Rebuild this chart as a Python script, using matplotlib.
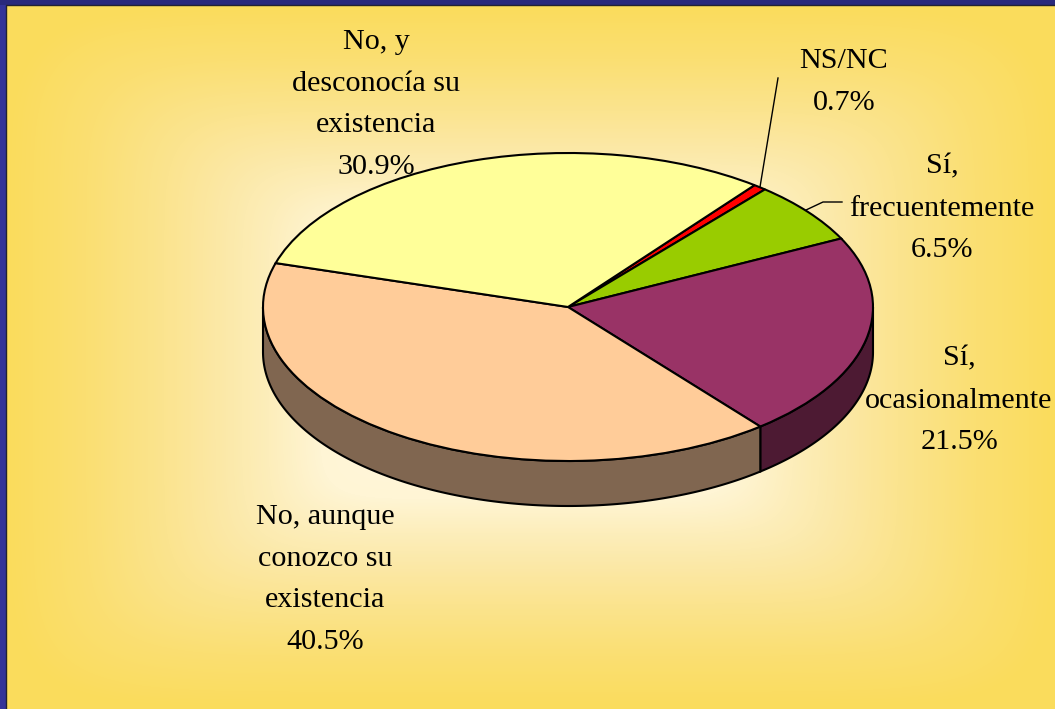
import numpy as np
import matplotlib
matplotlib.use("Agg")
import matplotlib.pyplot as plt
from matplotlib.colors import LinearSegmentedColormap

W, H = 1055, 709

# ---- data ----
categories = ["NS/NC", "Sí,\nfrecuentemente", "Sí,\nocasionalmente",
              "No, aunque\nconozco su\nexistencia", "No, y\ndesconocía su\nexistencia"]
values = [0.7, 6.5, 21.5, 40.5, 30.9]
top_colors = ["#FF0000", "#99CC00", "#993366", "#FFCC99", "#FFFF99"]
side_colors = ["#800000", "#4D6600", "#4D1A33", "#806650", "#80804D"]

# ---- layout (pixels) ----
CX, CY, RX, RY, DEPTH = 568, 307, 305, 154, 45
START = 52.3
label_xy = [(844, 82), (942, 208.5), (959, 400.5), (325, 579.5), (376, 104.5)]
FS = 21.7

plt.rcParams["font.family"] = ["Liberation Serif", "DejaVu Serif"]
fig = plt.figure(figsize=(W / 100, H / 100), dpi=100)
fig.patch.set_facecolor("#333399")

# background
bg = fig.add_axes([0, 0, 1, 1], zorder=0)
bg.set_xlim(0, W); bg.set_ylim(H, 0); bg.axis("off")
L, T = 6, 5
yy, xx = np.mgrid[T:H, L:W]
u = np.abs(xx - (L + W) / 2) / ((W - L) / 2)
v = np.abs(yy - (T + H) / 2) / ((H - T) / 2)
d = (u ** 8 + v ** 8) ** 0.125
cmap = LinearSegmentedColormap.from_list("g", [(0, "#FFFBE8"), (0.4, "#FFF5D5"), (0.5, "#FDEEBB"),
                                              (0.6, "#FBE8A5"), (0.7, "#FBE48F"),
                                              (0.85, "#FADF72"), (1, "#FADC5C")])
bg.imshow(d, extent=(L, W, H, T), cmap=cmap, vmin=0, vmax=1, aspect="auto", interpolation="bilinear")
bg.fill_between([0, W], 0, T, color="#29297C", lw=0)
bg.plot([L, L, W], [H, T, T], color="#222233", lw=1.0)
bg.set_xlim(0, W); bg.set_ylim(H, 0)

# pie axes: the unit circle maps onto the tilted ellipse
ax = fig.add_axes([0, 0, 1, 1], zorder=1)
ax.patch.set_alpha(0)
wedges, _ = ax.pie(values, startangle=START, counterclock=False, colors=top_colors,
                   wedgeprops=dict(edgecolor="black", linewidth=1.5), radius=1)
ax.set_aspect("auto")
ax.set_xlim(-CX / RX, (W - CX) / RX)
ax.set_ylim((CY - H) / RY, CY / RY)
ax.axis("off")
dz = DEPTH / RY

def px(x, y):
    return (x - CX) / RX, (CY - y) / RY

# side wall of the disc, from the same slice angles
edges = START - np.cumsum([0] + values) * 360 / sum(values)
for a0, a1, c in zip(edges[:-1], edges[1:], side_colors):
    for shift in (0, 360, -360):
        hi, lo = min(a0 + shift, 0), max(a1 + shift, -180)
        if hi > lo:
            t = np.radians(np.linspace(lo, hi, 200))
            xs, ys = np.cos(t), np.sin(t)
            ax.fill(np.r_[xs, xs[::-1]], np.r_[ys, ys[::-1] - dz], facecolor=c,
                    edgecolor="black", lw=1.5, zorder=0.5)

# labels
for name, val, (x, y) in zip(categories, values, label_xy):
    tx, ty = px(x, y)
    ax.text(tx, ty, f"{name}\n{val:.1f}%", ha="center", va="center", multialignment="center",
            fontsize=FS, color="black", linespacing=1.79, zorder=5)

# leader lines
for pts in ([(760, 187), (778, 78)], [(806, 210), (823, 202), (842, 202)]):
    q = [px(*p) for p in pts]
    ax.plot(*zip(*q), color="black", lw=1.0, zorder=4)

ax.set_xlim(-CX / RX, (W - CX) / RX)
ax.set_ylim((CY - H) / RY, CY / RY)
fig.savefig("out.png", dpi=100, facecolor=fig.get_facecolor())
